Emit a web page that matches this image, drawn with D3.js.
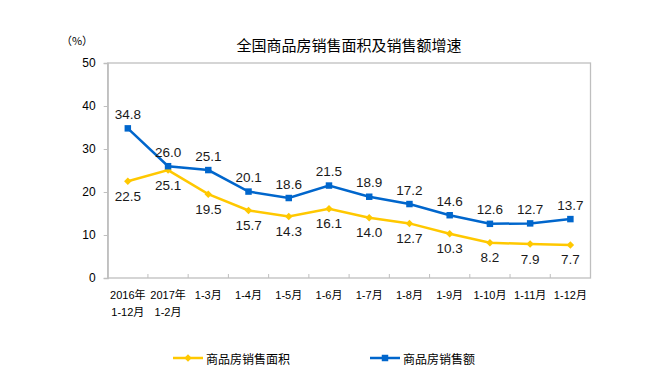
<!DOCTYPE html>
<html><head><meta charset="utf-8">
<script src="https://cdn.jsdelivr.net/npm/d3@7"></script>
<style>body{margin:0;background:#fff}svg{display:block}</style>
</head><body>
<script>
const categories = [["2016年","1-12月"],["2017年","1-2月"],["1-3月"],["1-4月"],["1-5月"],["1-6月"],["1-7月"],["1-8月"],["1-9月"],["1-10月"],["1-11月"],["1-12月"]];
const areaGrowth = [22.5,25.1,19.5,15.7,14.3,16.1,14.0,12.7,10.3,8.2,7.9,7.7];
const salesGrowth = [34.8,26.0,25.1,20.1,18.6,21.5,18.9,17.2,14.6,12.6,12.7,13.7];
const yTicks = [0,10,20,30,40,50];
const seriesNames = ["商品房销售面积","商品房销售额"];
const title = "全国商品房销售面积及销售额增速";

const W=652,H=389;
const m={l:107.7,r:590.5,t:63,b:278};
const svg=d3.select("body").append("svg").attr("width",W).attr("height",H);
const numFont="'Liberation Sans',Arial,'Noto Sans CJK SC',sans-serif";
const cjkFont="'Noto Sans CJK SC','Liberation Sans',sans-serif";

const x=d3.scaleBand().domain(d3.range(categories.length)).range([m.l,m.r]).padding(0);
const y=d3.scaleLinear().domain([0,50]).range([m.b,m.t]);
const cx=i=>x(i)+x.bandwidth()/2;

// plot border
svg.append("rect").attr("x",m.l).attr("y",m.t).attr("width",m.r-m.l).attr("height",m.b-m.t)
  .attr("fill","none").attr("stroke","#bfbfbf").attr("stroke-width",1.3);

// y axis
const ya=svg.append("g").attr("transform",`translate(${m.l},0)`)
  .call(d3.axisLeft(y).tickValues(yTicks).tickSize(4).tickPadding(8).tickFormat(d3.format("d")));
ya.select(".domain").attr("stroke","#bfbfbf").attr("stroke-width",1.3);
ya.selectAll(".tick line").attr("stroke","#bfbfbf");
ya.selectAll("text").attr("font-family",numFont).attr("font-size",12).attr("fill","#000");

// x axis ticks (boundaries, inward)
const bounds=d3.range(1,categories.length);
svg.append("g").selectAll("line").data(bounds).join("line")
  .attr("x1",i=>x(i)).attr("x2",i=>x(i)).attr("y1",m.b).attr("y2",m.b-4)
  .attr("stroke","#bfbfbf").attr("stroke-width",1);
const xl=svg.append("g").selectAll("text").data(categories).join("text")
  .attr("text-anchor","middle").attr("font-family",numFont).attr("font-size",11).attr("fill","#000");
xl.each(function(d,i){
  const t=d3.select(this);
  d.forEach((s,j)=>t.append("tspan").attr("x",cx(i)).attr("y",299+j*17).text(s));
});

// title
svg.append("text").attr("x",349).attr("y",51).attr("text-anchor","middle")
  .attr("font-family",cjkFont).attr("font-size",15).attr("fill","#000").text(title);
svg.append("text").attr("x",77).attr("y",45).attr("text-anchor","middle")
  .attr("font-family",cjkFont).attr("font-size",11).attr("fill","#000").text("（%）");

const colors=["#FFC800","#0066CC"];
const line=d3.line().x((d,i)=>cx(i)).y(d=>y(d));
const diamond=d3.symbol().type(d3.symbolDiamond2).size(36);
const square=d3.symbol().type(d3.symbolSquare).size(42);

function drawSeries(vals,color,sym,dy){
  svg.append("path").datum(vals).attr("d",line).attr("fill","none").attr("stroke",color).attr("stroke-width",2.5);
  svg.append("g").selectAll("path").data(vals).join("path")
    .attr("transform",(d,i)=>`translate(${cx(i)},${y(d)})`).attr("d",sym).attr("fill",color);
  svg.append("g").selectAll("text").data(vals).join("text")
    .attr("x",(d,i)=>cx(i)).attr("y",d=>y(d)+dy).attr("text-anchor","middle").attr("dominant-baseline","central")
    .attr("font-family",numFont).attr("font-size",13.5).attr("fill","#1a1a1a").text(d=>d.toFixed(1));
}
drawSeries(areaGrowth,colors[0],diamond,15);
drawSeries(salesGrowth,colors[1],square,-14);

// legend
const lg=[{x:173,sym:diamond},{x:370,sym:square}];
lg.forEach((l,k)=>{
  const g=svg.append("g");
  g.append("line").attr("x1",l.x).attr("x2",l.x+30).attr("y1",358).attr("y2",358).attr("stroke",colors[k]).attr("stroke-width",2.5);
  g.append("path").attr("transform",`translate(${l.x+15},358)`).attr("d",l.sym).attr("fill",colors[k]);
  g.append("text").attr("x",l.x+33).attr("y",358).attr("dominant-baseline","central")
    .attr("font-family",cjkFont).attr("font-size",12).attr("fill","#000").text(seriesNames[k]);
});
</script>
</body></html>
